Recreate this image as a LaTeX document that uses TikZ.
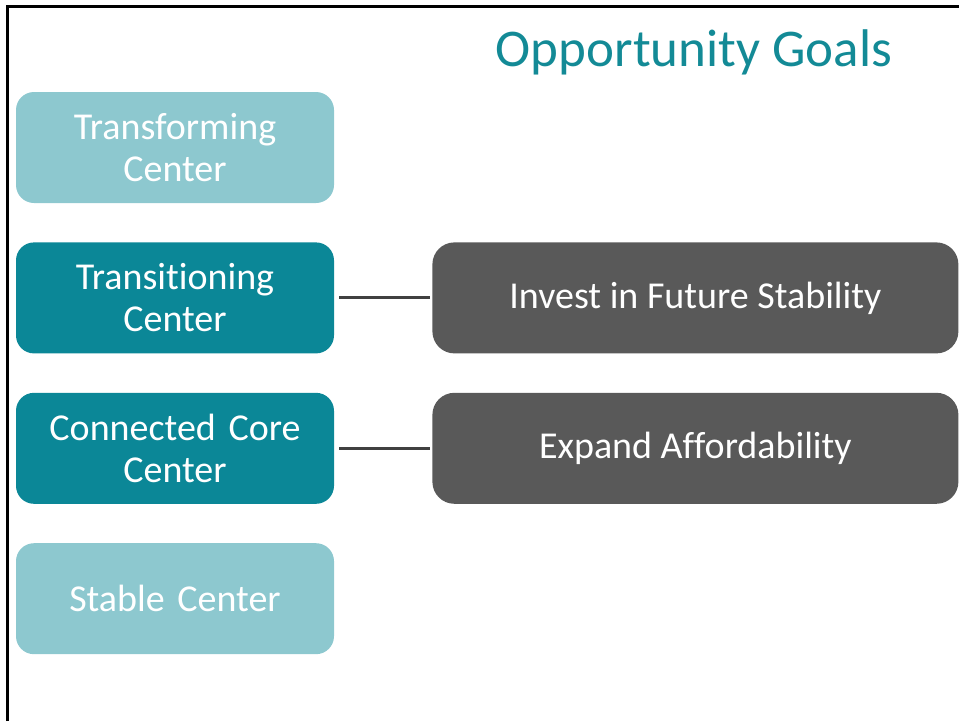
\documentclass[tikz,border=0pt]{standalone}
\usepackage{fontspec}
\setmainfont[Ligatures=NoCommon]{Carlito}
\usetikzlibrary{positioning}

\definecolor{stageteal}{HTML}{0B8797}
\definecolor{stagepale}{HTML}{8DC8CF}
\definecolor{goalgrey}{HTML}{595959}
\definecolor{linkgrey}{HTML}{404040}
\definecolor{titleteal}{HTML}{138A96}

\begin{document}
\begin{tikzpicture}[x=1pt,y=-1pt,node distance=39pt and 98pt]
  \tikzstyle{stagebox}=[rectangle,rounded corners=18pt,inner sep=0pt,
                        minimum width=318pt,minimum height=111pt,
                        text width=310pt,align=center,text=white,
                        font=\fontsize{38}{42}\selectfont]
  \tikzstyle{activestage}=[stagebox,fill=stageteal]
  \tikzstyle{pendingstage}=[stagebox,fill=stagepale]
  \tikzstyle{goalbox}=[rectangle,rounded corners=22pt,inner sep=0pt,
                       fill=goalgrey,minimum width=526pt,minimum height=111pt,
                       text=white,font=\fontsize{38}{42}\selectfont]
  \tikzstyle{goallink}=[draw=linkgrey,line width=3pt,shorten <=5pt,
                        shorten >=2pt]

  \useasboundingbox (0,0) rectangle (959,721);

  % frame
  \draw[line width=3pt] (7,721) -- (7,6) -- (959,6);

  \node[text=titleteal,font=\fontsize{53}{60}\selectfont]
        (title) at (694,52) {Opportunity Goals};

  \node[pendingstage] (transforming) at (175,147.5) {Transforming\\Center};
  \node[activestage]  (transitioning) [below=of transforming] {Transitioning\\Center};
  \node[activestage]  (connected) [below=of transitioning] {Connected Core\\Center};
  \node[pendingstage] (stable) [below=of connected] {Stable Center};

  \node[goalbox] (invest) [right=of transitioning] {Invest in Future Stability};
  \node[goalbox] (expand) [right=of connected] {Expand Affordability};

  \path (transitioning) edge[goallink] (invest)
        (connected)     edge[goallink] (expand);
\end{tikzpicture}
\end{document}
